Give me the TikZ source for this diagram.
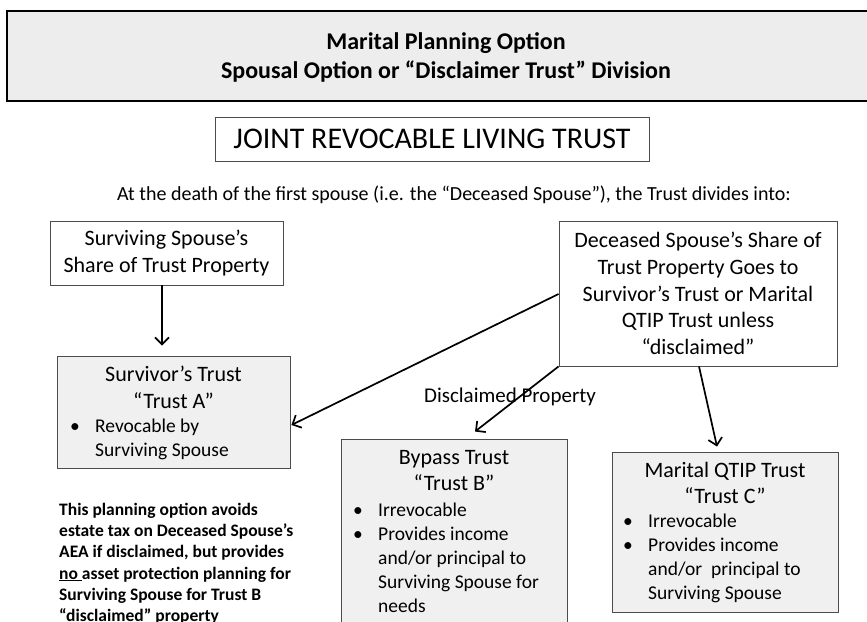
\documentclass[tikz,border=0pt]{standalone}
\usepackage{fontspec}
\setmainfont{Carlito}
\usetikzlibrary{arrows.meta}

\begin{document}
\begin{tikzpicture}[x=1pt,y=-1pt]
    \tikzstyle{plain}=[draw=black!70,line width=0.9pt,fill=white,inner sep=0pt]
    \tikzstyle{trust}=[draw=black!70,line width=0.9pt,fill=black!6,inner sep=0pt]
    \tikzstyle{link}=[-{Straight Barb[length=7pt,width=14pt]},line width=1.7pt]
    \tikzstyle{body}=[font=\fontsize{22}{26.7}\selectfont,align=center,inner sep=0pt]
    \tikzstyle{bullets}=[font=\fontsize{19.5}{24}\selectfont,align=left,inner sep=0pt,anchor=west]

    \useasboundingbox (0,0) rectangle (867,621);
    \fill[white] (0,0) rectangle (867,621);

    % heading band, runs off the right edge
    \draw[line width=2.5pt, fill=black!7] (7,11) rectangle (880,101);
    \node at (446,57) (title) [font=\bfseries\fontsize{24}{29}\selectfont, align=center, inner sep=0pt] {Marital Planning Option\\Spousal Option or “Disclaimer Trust” Division};

    \node at (432,139) (joint) [plain, minimum width=434pt, minimum height=44pt, font=\fontsize{30}{32}\selectfont] {JOINT REVOCABLE LIVING TRUST};
    \node at (454,195) (intro) [font=\fontsize{20}{24}\selectfont, inner sep=0pt] {At the death of the first spouse (i.e. the “Deceased Spouse”), the Trust divides into:};

    \node at (166.5,253) (share) [plain, body, minimum width=233pt, minimum height=64pt] {Surviving Spouse’s\\Share of Trust Property};
    \node at (698,293.5) (deceased) [plain, body, minimum width=278pt, minimum height=145pt] {Deceased Spouse’s Share of\\Trust Property Goes to\\Survivor’s Trust or Marital\\QTIP Trust unless\\“disclaimed”};

    % trust A
    \node at (173.5,412) (trustA) [trust, minimum width=233pt, minimum height=112pt] {};
    \node at (173.5,387) (trustAname) [body] {Survivor’s Trust\\“Trust A”};
    \node at (70,439) (trustAitems) [bullets] {\makebox[25pt][l]{\textbullet}Revocable by\\\hspace*{25pt}Surviving Spouse};

    % trust B
    \node at (454,540) (trustB) [trust, minimum width=226pt, minimum height=202pt] {};
    \node at (454,470.5) (trustBname) [body] {Bypass Trust\\“Trust B”};
    \node at (353,558) (trustBitems) [bullets] {\makebox[25pt][l]{\textbullet}Irrevocable\\\makebox[25pt][l]{\textbullet}Provides income\\\hspace*{25pt}and/or principal to\\\hspace*{25pt}Surviving Spouse for\\\hspace*{25pt}needs};

    % trust C
    \node at (725,532) (trustC) [trust, minimum width=226pt, minimum height=160pt] {};
    \node at (725,483) (trustCname) [body] {Marital QTIP Trust\\“Trust C”};
    \node at (623,558) (trustCitems) [bullets] {\makebox[25pt][l]{\textbullet}Irrevocable\\\makebox[25pt][l]{\textbullet}Provides income\\\hspace*{25pt}and/or\ \ principal to\\\hspace*{25pt}Surviving Spouse};

    \node at (510,397) (disclaimed) [font=\fontsize{21}{24}\selectfont, inner sep=0pt] {Disclaimed Property};

    \node at (59,503) (note) [anchor=north west, align=left, inner sep=0pt, font=\bfseries\fontsize{17.5}{21.2}\selectfont] {This planning option avoids\\estate tax on Deceased Spouse’s\\AEA if disclaimed, but provides\\\underline{no\ }asset protection planning for\\Surviving Spouse for Trust B\\“disclaimed” property};

    \draw[link] ([xshift=-4.5pt]share.south) -- ([xshift=-11.5pt,yshift=10pt]trustA.north);
    \draw[link] ([yshift=-0.5pt]deceased.west) -- ([xshift=1pt,yshift=-13pt]trustA.east);
    \draw[link] (deceased.south west) -- ([xshift=21pt,yshift=7pt]trustB.north);
    \draw[link] ([xshift=1pt]deceased.south) -- ([xshift=-8pt,yshift=5pt]trustC.north);

\end{tikzpicture}
\end{document}
